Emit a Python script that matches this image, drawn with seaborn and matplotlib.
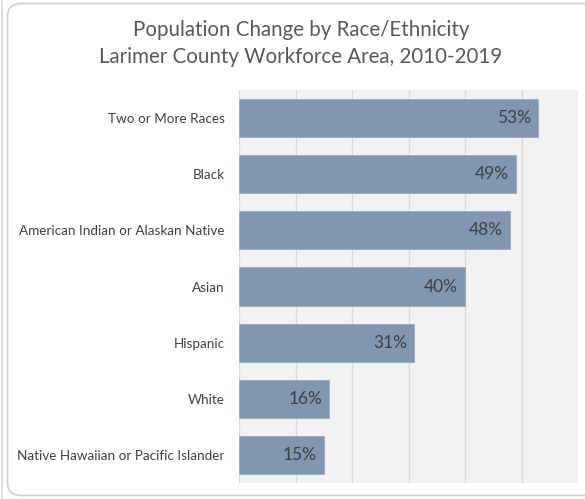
import matplotlib
matplotlib.use("Agg")
import matplotlib.pyplot as plt
from matplotlib.patches import FancyBboxPatch
import pandas as pd
import seaborn as sns

# Population change 2010-2019 by race/ethnicity (percent)
groups = [
    "Two or More Races",
    "Black",
    "American Indian or Alaskan Native",
    "Asian",
    "Hispanic",
    "White",
    "Native Hawaiian or Pacific Islander",
]
change_pct = [53, 49, 48, 40, 31, 16, 15]
title_lines = ["Population Change by Race/Ethnicity",
               "Larimer County Workforce Area, 2010-2019"]

df = pd.DataFrame({"group": groups, "change": change_pct})

plt.rcParams["font.family"] = ["Lato", "DejaVu Sans"]

W, H = 585, 499
fig = plt.figure(figsize=(W / 100, H / 100), dpi=100)
fig.patch.set_facecolor("white")

# Rounded chart frame
frame = FancyBboxPatch((7.5 / W, 3.5 / H), (W + 20) / W, (H - 7) / H,
                       boxstyle="round,pad=0,rounding_size=0.025",
                       transform=fig.transFigure, facecolor="white",
                       edgecolor="#d0d0d0", linewidth=1.2, zorder=-5)
fig.patches.append(frame)
fig.add_artist(plt.Line2D([2 / W, 2 / W], [0, 1], transform=fig.transFigure,
                          color="#d6d6d6", linewidth=1.2, zorder=-4))

ax = fig.add_axes([239 / W, 16 / H, 339 / W, 393 / H])
ax.set_zorder(2)
ax.set_facecolor("#f2f2f2")

sns.barplot(data=df, x="change", y="group", orient="h", color="#8196b0",
            saturation=1, width=0.68, edgecolor="#9aabc0", linewidth=0.6,
            ax=ax, zorder=3)

ax.set_xlim(0, 60)
ax.set_xticks(range(0, 61, 10))
ax.xaxis.grid(True, color="#d9d9d9", linewidth=1.0, zorder=0)
ax.yaxis.grid(False)
ax.set_axisbelow(True)
ax.tick_params(axis="x", bottom=False, labelbottom=False)
ax.tick_params(axis="y", left=False, pad=7, labelsize=9.7, labelcolor="#404040")
ax.set_xlabel("")
ax.set_ylabel("")
for s in ax.spines.values():
    s.set_visible(False)

for patch, val in zip(ax.patches, change_pct):
    y = patch.get_y() + patch.get_height() / 2
    ax.annotate(f"{val}%", (val, y), xytext=(-5, 0), textcoords="offset points",
                ha="right", va="center", fontsize=12.5, color="#404040", zorder=4)

for i, line in enumerate(title_lines):
    fig.text(301 / W, 1 - (30 + 27 * i) / H, line, ha="center", va="center",
             fontsize=14.8, color="#595959", zorder=3)

fig.savefig("out.png", dpi=100)
